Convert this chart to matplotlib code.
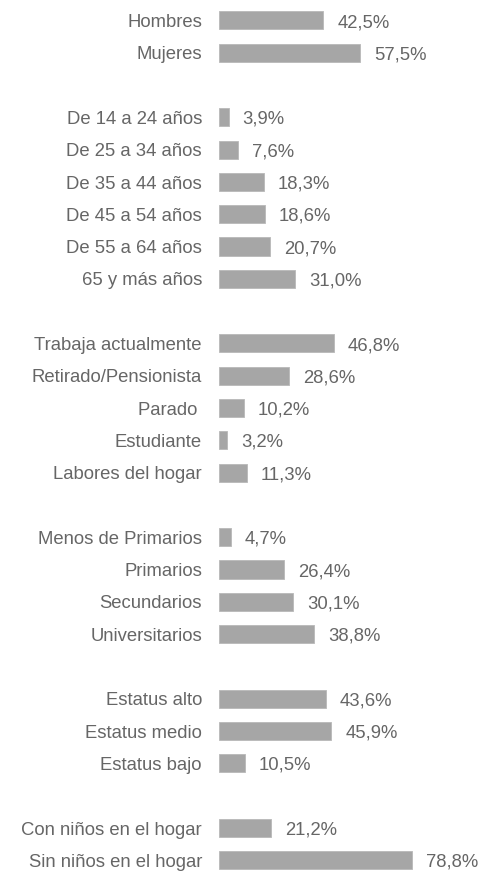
import numpy as np
import matplotlib.pyplot as plt

plt.rcParams['font.family'] = ['Liberation Sans', 'DejaVu Sans']

# one list per block, blank row between blocks
sexo = ['Hombres', 'Mujeres']
sexo_val = [42.5, 57.5]
edad = ['De 14 a 24 años', 'De 25 a 34 años', 'De 35 a 44 años',
        'De 45 a 54 años', 'De 55 a 64 años', '65 y más años']
edad_val = [3.9, 7.6, 18.3, 18.6, 20.7, 31.0]
ocup = ['Trabaja actualmente', 'Retirado/Pensionista', 'Parado ',
        'Estudiante', 'Labores del hogar']
ocup_val = [46.8, 28.6, 10.2, 3.2, 11.3]
estudios = ['Menos de Primarios', 'Primarios', 'Secundarios', 'Universitarios']
estudios_val = [4.7, 26.4, 30.1, 38.8]
estatus = ['Estatus alto', 'Estatus medio', 'Estatus bajo']
estatus_val = [43.6, 45.9, 10.5]
ninos = ['Con niños en el hogar', 'Sin niños en el hogar']
ninos_val = [21.2, 78.8]

groups = [(sexo, sexo_val), (edad, edad_val), (ocup, ocup_val),
          (estudios, estudios_val), (estatus, estatus_val), (ninos, ninos_val)]

labels, values, pos = [], [], []
row = 0
for names, vals in groups:
    for n, v in zip(names, vals):
        labels.append(n)
        values.append(v)
        pos.append(row)
        row += 1
    row += 1
n_rows = row - 1

W, H = 479, 871
fig = plt.figure(figsize=(W / 100, H / 100), dpi=100)
step = 32.3
top_px = 20.4 - step / 2
bot_px = top_px + step * n_rows
left_px = 219
xmax = 100
width_px = 2.45 * xmax
ax = fig.add_axes([left_px / W, (H - bot_px) / H, width_px / W, (bot_px - top_px) / H])

bar_c = '#a6a6a6'
txt_c = '#666666'
fs = 13.3
ax.barh(pos, values, height=0.56, color=bar_c, edgecolor='#b8b8b8', linewidth=0.6)
ax.set_ylim(n_rows - 0.5, -0.5)
ax.set_xlim(0, xmax)

# baseline placed half a cap height below the bar centre
dy = -0.716 * fs * 100 / 72 / 2
for p, lab, v in zip(pos, labels, values):
    ax.annotate(lab, (0, p), xytext=(-17, dy), textcoords='offset pixels',
                ha='right', va='baseline', fontsize=fs, color=txt_c)
    ax.annotate(f'{v:.1f}%'.replace('.', ','), (v, p), xytext=(14, dy),
                textcoords='offset pixels', ha='left', va='baseline',
                fontsize=fs, color=txt_c)

ax.axis('off')
fig.savefig('out.png', dpi=100)
